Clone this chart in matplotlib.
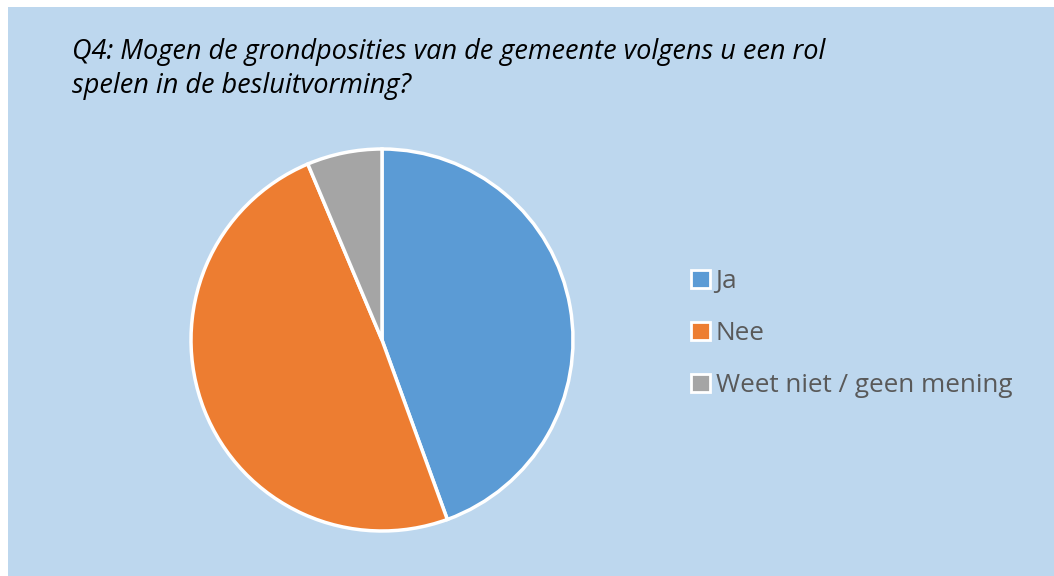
import matplotlib
matplotlib.use("Agg")
import matplotlib.pyplot as plt
from matplotlib.patches import Rectangle, Patch

# --- data ---
categories = ["Ja", "Nee", "Weet niet / geen mening"]
counts = [28, 31, 4]
colors = ["#5B9BD5", "#ED7D31", "#A5A5A5"]
title_lines = ["Q4: Mogen de grondposities van de gemeente volgens u een rol",
               "spelen in de besluitvorming?"]

BG = "#BDD7EE"
W, H = 1054, 576
FONT = "Open Sans"

fig = plt.figure(figsize=(W / 100, H / 100), dpi=100, facecolor="white")

# light blue chart area (white strip at left and top)
fig.patches.append(Rectangle((8 / W, 0), 1 - 8 / W, 1 - 7 / H,
                             transform=fig.transFigure, facecolor=BG,
                             edgecolor="none", zorder=-5))

# title, two lines
fig.text(72 / W, 1 - 59 / H, title_lines[0], fontsize=19.5, style="italic",
         family=FONT, color="black", va="baseline", ha="left")
fig.text(72 / W, 1 - 93 / H, title_lines[1], fontsize=19.5, style="italic",
         family=FONT, color="black", va="baseline", ha="left")

# pie: center (382, 340), radius 191 px
cx, cy, r = 382, 340, 191
pad = 1.02
ax = fig.add_axes([(cx - r * pad) / W, (H - cy - r * pad) / H,
                   2 * r * pad / W, 2 * r * pad / H])
ax.pie(counts, colors=colors, startangle=90, counterclock=False, radius=1,
       wedgeprops=dict(edgecolor="white", linewidth=2.5))
ax.set_xlim(-pad, pad)
ax.set_ylim(-pad, pad)
ax.set_aspect("equal")
ax.axis("off")

handles = [Patch(facecolor=c, edgecolor="white", linewidth=2, label=l)
           for c, l in zip(colors, categories)]
fig.legend(handles=handles, loc="upper left",
           bbox_to_anchor=(691 / W, 1 - 269 / H), frameon=False,
           labelcolor="#595959", handlelength=0.72,
           handleheight=0.72, handletextpad=0.22, labelspacing=1.04,
           borderpad=0, borderaxespad=0,
           prop=dict(family=FONT, size=18.8))

fig.savefig("out.png", dpi=100, facecolor="white")
